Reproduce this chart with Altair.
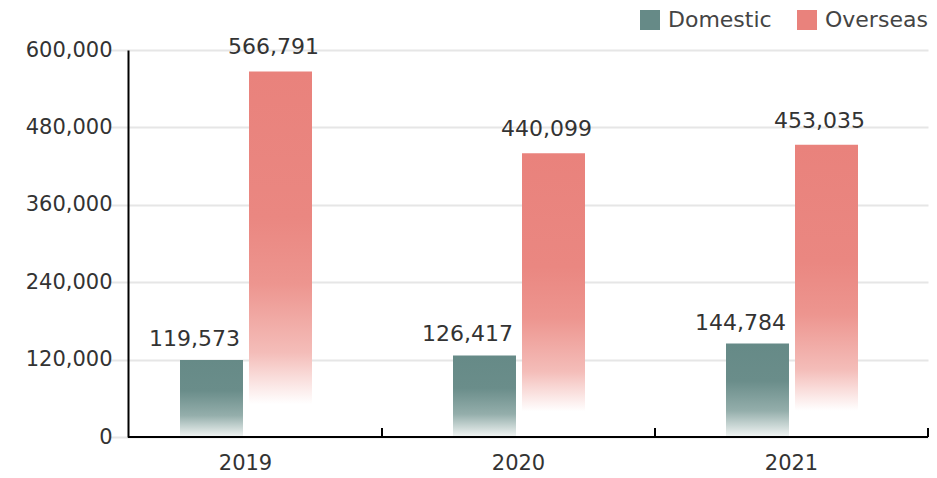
import altair as alt
import pandas as pd

years = ["2019", "2020", "2021"]
domestic = [119573, 126417, 144784]
overseas = [566791, 440099, 453035]
series_names = ["Domestic", "Overseas"]
y_ticks = [0, 120000, 240000, 360000, 480000, 600000]

rows = []
for i, yr in enumerate(years):
    rows.append({"year": yr, "series": "Domestic", "value": domestic[i]})
    rows.append({"year": yr, "series": "Overseas", "value": overseas[i]})
df = pd.DataFrame(rows)

C_DOM = "#668a87"
C_OVR = "#e9827c"
FONT = "DejaVu Sans"
W, H = 800, 387

grad_dom = alt.Gradient(
    gradient="linear",
    stops=[
        alt.GradientStop(color=C_DOM, offset=0),
        alt.GradientStop(color="#6a8d8a", offset=0.4),
        alt.GradientStop(color="#94aeab", offset=0.72),
        alt.GradientStop(color="#f3f6f5", offset=1),
    ],
    x1=0, x2=0, y1=0, y2=1,
)
grad_ovr = alt.Gradient(
    gradient="linear",
    stops=[
        alt.GradientStop(color=C_OVR, offset=0),
        alt.GradientStop(color="#ea8781", offset=0.4),
        alt.GradientStop(color="#ed958f", offset=0.58),
        alt.GradientStop(color="#f4bdb9", offset=0.77),
        alt.GradientStop(color="#ffffff", offset=0.91),
        alt.GradientStop(color="#ffffff", offset=1),
    ],
    x1=0, x2=0, y1=0, y2=1,
)

x_enc = alt.X(
    "year:N",
    sort=years,
    scale=alt.Scale(domain=years, range=[-19, W], paddingInner=0, paddingOuter=0),
    axis=alt.Axis(
        title=None, domain=False, ticks=False, grid=False, labelAngle=0,
        labelFont=FONT, labelFontSize=21, labelColor="#333333", labelPadding=15,
    ),
)
xo_enc = alt.XOffset(
    "series:N",
    scale=alt.Scale(domain=series_names, range=[71, 203], paddingInner=0.087, paddingOuter=0),
)
y_enc = alt.Y(
    "value:Q",
    scale=alt.Scale(domain=[0, 600000], nice=False),
    axis=alt.Axis(
        title=None, values=y_ticks, format=",d", ticks=False,
        domainColor="#000000", domainWidth=2,
        gridColor="#e6e6e6", gridWidth=2,
        labelFont=FONT, labelFontSize=21, labelColor="#333333", labelPadding=16,
    ),
)

base = alt.Chart(df)

legend_layer = base.mark_bar(opacity=0).encode(
    x=x_enc, xOffset=xo_enc, y=y_enc,
    color=alt.Color(
        "series:N",
        scale=alt.Scale(domain=series_names, range=[C_DOM, C_OVR]),
        legend=alt.Legend(
            title=None, orient="none", direction="horizontal",
            legendX=511, legendY=-41,
            symbolType="square", symbolSize=400, symbolOpacity=1,
            symbolStrokeWidth=0, labelFont=FONT, labelFontSize=22,
            labelColor="#444444", labelOffset=7, columnPadding=24, padding=0,
        ),
    ),
)

dom_bars = base.transform_filter(alt.datum.series == "Domestic").mark_bar(
    color=grad_dom
).encode(x=x_enc, xOffset=xo_enc, y=y_enc)

ovr_bars = base.transform_filter(alt.datum.series == "Overseas").mark_bar(
    color=grad_ovr
).encode(x=x_enc, xOffset=xo_enc, y=y_enc)

dom_text = base.transform_filter(alt.datum.series == "Domestic").mark_text(
    font=FONT, fontSize=22, color="#333333", baseline="alphabetic",
    align="center", dx=-17, dy=-14,
).encode(x=x_enc, xOffset=xo_enc, y=y_enc, text=alt.Text("value:Q", format=",d"))

ovr_text = base.transform_filter(alt.datum.series == "Overseas").mark_text(
    font=FONT, fontSize=22, color="#333333", baseline="alphabetic",
    align="center", dx=-7, dy=-17,
).encode(x=x_enc, xOffset=xo_enc, y=y_enc, text=alt.Text("value:Q", format=",d"))

x_line = alt.Chart(pd.DataFrame({"v": [0]})).mark_rule(
    color="#000000", strokeWidth=2
).encode(y=alt.Y("v:Q", scale=alt.Scale(domain=[0, 600000], nice=False)),
         x=alt.value(0), x2=alt.value(W))

tick_rules = alt.Chart(pd.DataFrame({"year": years})).mark_rule(
    color="#000000", strokeWidth=2
).encode(x=alt.X("year:N", sort=years, bandPosition=1), y=alt.value(H - 9), y2=alt.value(H))

chart = alt.layer(
    legend_layer, dom_bars, ovr_bars, dom_text, ovr_text, x_line, tick_rules
).properties(
    width=W, height=H,
    autosize=alt.AutoSizeParams(type="none"),
    padding={"left": 120, "top": 42, "right": 1, "bottom": 33},
).configure_view(stroke=None)

chart.save("out.html", embed_options={"renderer": "svg", "actions": False})
